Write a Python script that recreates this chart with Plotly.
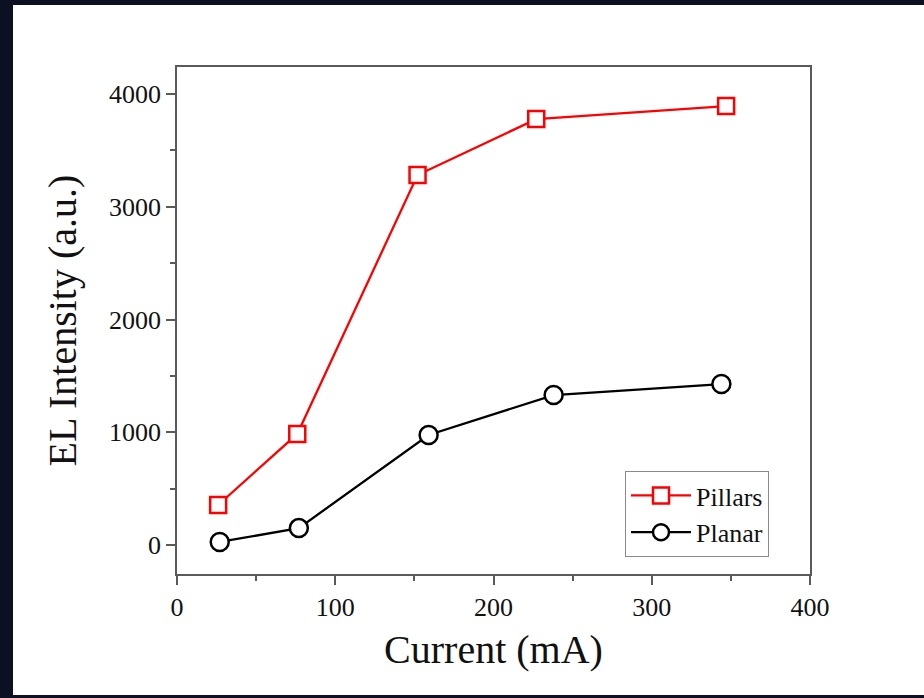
import plotly.graph_objects as go

# Data
pillars_x = [26, 76, 152, 227, 347]
pillars_y = [355, 985, 3282, 3778, 3893]
planar_x = [27, 77, 159, 238, 344]
planar_y = [27, 150, 976, 1330, 1428]

x_ticks = [0, 100, 200, 300, 400]
y_ticks = [0, 1000, 2000, 3000, 4000]

FONT = "Liberation Serif, Times New Roman, serif"
AX = "#5a5a5a"

fig = go.Figure()
fig.add_trace(go.Scatter(
    x=pillars_x, y=pillars_y, name="Pillars", mode="lines+markers",
    line=dict(color="#ff0000", width=2.3),
    marker=dict(symbol="square", size=16, color="white",
                line=dict(color="#ff0000", width=2.5)),
))
fig.add_trace(go.Scatter(
    x=planar_x, y=planar_y, name="Planar", mode="lines+markers",
    line=dict(color="#000000", width=2.3),
    marker=dict(symbol="circle", size=18, color="white",
                line=dict(color="#000000", width=2.5)),
))

W, H = 924, 698
L, R, T, B = 177, 810, 67, 574
pw, ph = R - L, B - T

def px(x):
    return (x - L) / pw

def py(y):
    return (B - y) / ph

fig.add_shape(type="rect", xref="paper", yref="paper",
              x0=px(13), x1=px(930), y0=py(695), y1=py(5),
              fillcolor="white", line=dict(width=0), layer="below")

fig.update_layout(
    width=W, height=H,
    margin=dict(l=L, r=W - R, t=T, b=H - B, pad=0),
    paper_bgcolor="#0b1122",
    plot_bgcolor="white",
    font=dict(family=FONT, color="#111111"),
    showlegend=True,
    legend=dict(x=px(625), y=py(471), xanchor="left", yanchor="top",
                bgcolor="white", bordercolor="#8a8a8a", borderwidth=1,
                font=dict(size=26, family=FONT, color="#111111"),
                itemwidth=60, tracegroupgap=0),
)
fig.update_xaxes(
    range=[0, 400], tickvals=x_ticks, ticktext=[str(v) for v in x_ticks],
    showgrid=False, zeroline=False,
    showline=True, linecolor=AX, linewidth=1.5, mirror=True,
    ticks="outside", ticklen=9, tickwidth=1.5, tickcolor=AX,
    minor=dict(dtick=50, ticks="outside", ticklen=5, tickwidth=1.5, tickcolor=AX, showgrid=False),
    tickfont=dict(size=26, family=FONT, color="#111111"),
    title=dict(text="Current (mA)", font=dict(size=40, family=FONT, color="#111111"), standoff=14),
)
fig.update_yaxes(
    range=[-257, 4240], tickvals=y_ticks, ticktext=[str(v) for v in y_ticks],
    showgrid=False, zeroline=False,
    showline=True, linecolor=AX, linewidth=1.5, mirror=True,
    ticks="outside", ticklen=9, tickwidth=1.5, tickcolor=AX,
    minor=dict(dtick=500, ticks="outside", ticklen=5, tickwidth=1.5, tickcolor=AX, showgrid=False),
    tickfont=dict(size=26, family=FONT, color="#111111"),
    title=dict(text="EL Intensity (a.u.)", font=dict(size=40, family=FONT, color="#111111"), standoff=20),
)

fig.write_html("out.html")
